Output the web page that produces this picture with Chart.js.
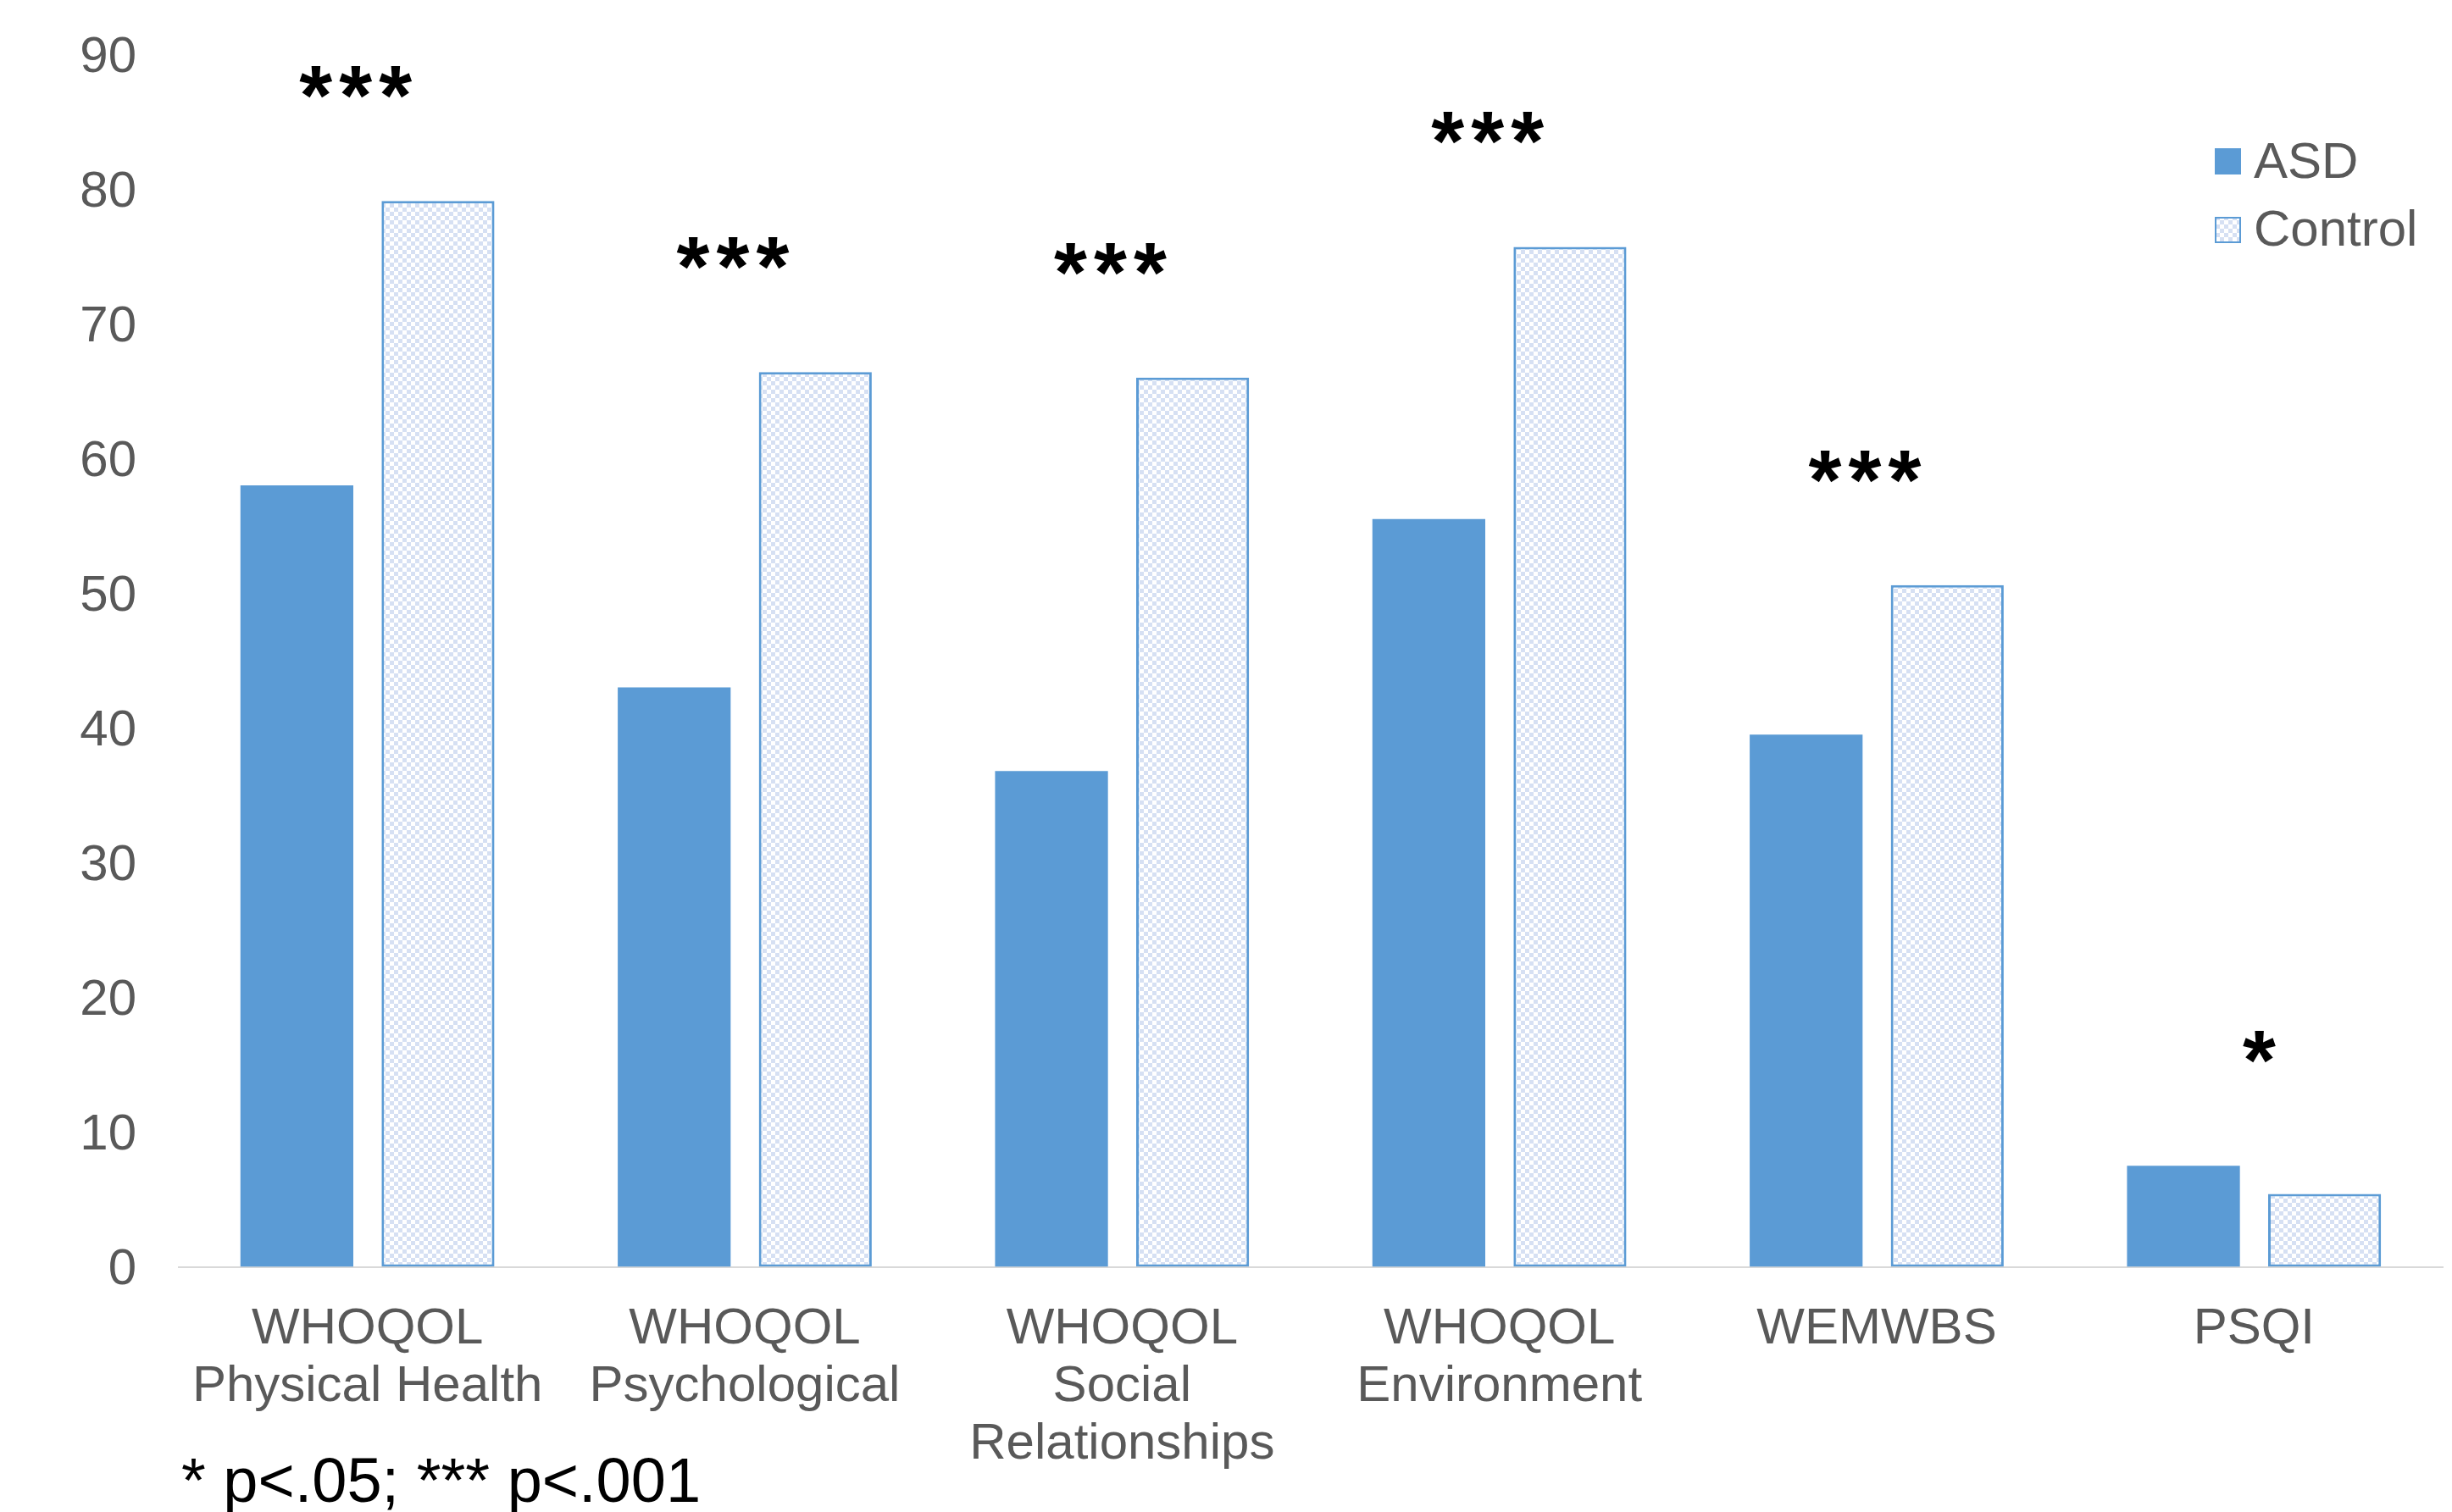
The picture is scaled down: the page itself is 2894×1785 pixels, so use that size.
<!DOCTYPE html>
<html>
<head>
<meta charset="utf-8">
<script src="https://cdn.jsdelivr.net/npm/chart.js@4.4.1/dist/chart.umd.min.js"></script>
<style>
html, body { margin: 0; padding: 0; background: #fff; }
</style>
</head>
<body>
<canvas id="chart" width="2894" height="1785"></canvas>
<script>
var categories = [
    ['WHOQOL', 'Physical Health'],
    ['WHOQOL', 'Psychological'],
    ['WHOQOL', 'Social', 'Relationships'],
    ['WHOQOL', 'Environment'],
    'WEMWBS',
    'PSQI'
];
var asdValues = [58.0, 43.0, 36.8, 55.5, 39.5, 7.5];
var controlValues = [79.1, 66.4, 66.0, 75.7, 50.6, 5.4];
var significance = ['***', '***', '***', '***', '***', '*'];
var seriesNames = ['ASD', 'Control'];
var footnote = '* p<.05; *** p<.001';

var FONT = '"Liberation Sans", Arial, sans-serif';
var BLUE = '#5b9bd5';
var GREY = '#595959';

function checker() {
    var c = document.createElement('canvas');
    c.width = 10;
    c.height = 10;
    var g = c.getContext('2d');
    g.fillStyle = '#ffffff';
    g.fillRect(0, 0, 10, 10);
    g.fillStyle = '#d6e0f3';
    g.fillRect(0, 0, 5, 5);
    g.fillRect(5, 5, 5, 5);
    return g.createPattern(c, 'repeat');
}
var pattern = checker();

// stars above each group, legend top right, footnote bottom left
var extras = {
    id: 'extras',
    afterDatasetsDraw: function (chart) {
        var ctx = chart.ctx, xs = chart.scales.x, ys = chart.scales.y;
        ctx.save();
        ctx.fillStyle = '#000';
        ctx.font = 'bold 100px ' + FONT;
        ctx.textAlign = 'center';
        ctx.textBaseline = 'alphabetic';
        significance.forEach(function (s, i) {
            var top = Math.max(asdValues[i], controlValues[i]) + 8.8;
            var py = ys.getPixelForValue(top);
            var n = s.length;
            var cx = xs.getPixelForValue(i) - 10 * (n - 1) + 6;
            var m = ctx.measureText('*');
            var base = py + (m.actualBoundingBoxAscent - m.actualBoundingBoxDescent) / 2;
            for (var k = 0; k < n; k++) {
                ctx.fillText('*', cx + (k - (n - 1) / 2) * 47, base);
            }
        });

        // legend
        ctx.font = '60px ' + FONT;
        ctx.textAlign = 'left';
        ctx.fillStyle = BLUE;
        ctx.fillRect(2614, 175, 31, 31);
        ctx.fillStyle = pattern;
        ctx.fillRect(2614, 256, 31, 31);
        ctx.strokeStyle = BLUE;
        ctx.lineWidth = 2;
        ctx.strokeRect(2615, 257, 29, 29);
        ctx.fillStyle = GREY;
        ctx.fillText(chart.data.datasets[0].label, 2660, 210);
        ctx.fillText(chart.data.datasets[1].label, 2660, 290);

        ctx.fillStyle = '#000';
        ctx.font = '74px ' + FONT;
        ctx.fillText(footnote, 214, 1773);
        ctx.restore();
    }
};

new Chart(document.getElementById('chart'), {
    type: 'bar',
    data: {
        labels: categories,
        datasets: [{
            label: seriesNames[0],
            data: asdValues,
            backgroundColor: BLUE,
            borderWidth: 0
        }, {
            label: seriesNames[1],
            data: controlValues,
            backgroundColor: pattern,
            borderColor: BLUE,
            borderWidth: 3,
            borderSkipped: false
        }]
    },
    options: {
        responsive: false,
        animation: false,
        devicePixelRatio: 1,
        categoryPercentage: 0.748,
        barPercentage: 0.8,
        layout: { padding: { top: 64, right: 11, left: 0, bottom: 0 } },
        plugins: {
            legend: { display: false },
            tooltip: { enabled: false }
        },
        scales: {
            x: {
                grid: { display: false },
                border: { display: true, color: '#d9d9d9', width: 2 },
                ticks: {
                    color: GREY,
                    font: { family: FONT, size: 60, lineHeight: 68 / 60 },
                    padding: 32,
                    maxRotation: 0,
                    autoSkip: false
                },
                afterFit: function (axis) { axis.height = 289.5; }
            },
            y: {
                min: 0,
                max: 90,
                grid: { display: false },
                border: { display: false },
                ticks: {
                    stepSize: 10,
                    color: GREY,
                    font: { family: FONT, size: 60 },
                    padding: 42,
                    labelOffset: 4
                },
                afterFit: function (axis) {
                    axis.width = 211;
                    axis.paddingTop = 0;
                    axis.paddingBottom = 0;
                }
            }
        }
    },
    plugins: [extras]
});
</script>
</body>
</html>
